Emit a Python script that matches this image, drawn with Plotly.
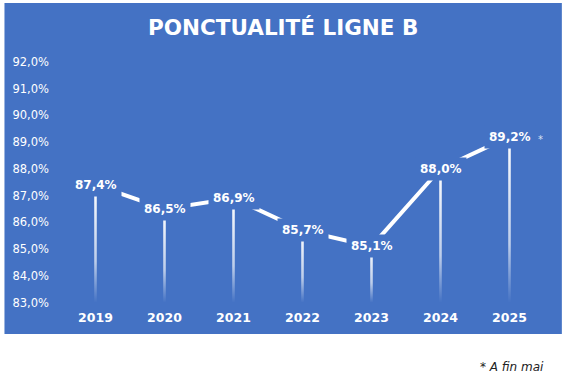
import plotly.graph_objects as go

years = ["2019", "2020", "2021", "2022", "2023", "2024", "2025"]
values = [87.4, 86.5, 86.9, 85.7, 85.1, 88.0, 89.2]
y_ticks = [83, 84, 85, 86, 87, 88, 89, 90, 91, 92]
title_text = "PONCTUALITÉ LIGNE B"
footnote = "* A fin mai"
star_note = "*"

BLUE = "#4472C4"
W, H = 569, 378
ML, MR, MT, MB = 57, 25, 51, 70
PW, PH = W - ML - MR, H - MT - MB
Y_MIN = 82.8
Y_MAX = 92.4


def pxx(px):
    return (px - ML) / PW


def pxy(py):
    return (H - MB - py) / PH


def fmt_pct(v):
    return f"{v:.1f}".replace(".", ",") + "%"


xs = list(range(len(years)))
fig = go.Figure()

# drop lines with vertical gradient
hw = 1.3 / (PW / len(years))
for i, v in zip(xs, values):
    fig.add_trace(go.Scatter(
        x=[i - hw, i + hw, i + hw, i - hw, i - hw],
        y=[y_ticks[0], y_ticks[0], v, v, y_ticks[0]],
        mode="lines", fill="toself", line=dict(width=0),
        fillgradient=dict(type="vertical", colorscale=[
            [0, "rgba(255,255,255,0.0)"],
            [0.35, "rgba(255,255,255,0.65)"],
            [1, "rgba(255,255,255,1)"]]),
        hoverinfo="skip", showlegend=False))

# main line
fig.add_trace(go.Scatter(x=xs, y=values, mode="lines",
                         line=dict(color="white", width=4),
                         hoverinfo="skip", showlegend=False))

annotations = []
for i, v in zip(xs, values):
    annotations.append(dict(
        x=i, y=v, xref="x", yref="y", showarrow=False,
        text=fmt_pct(v),
        font=dict(family="DejaVu Sans", size=12,
                  color="white", weight="bold"),
        bgcolor=BLUE, borderpad=4, xanchor="center", yanchor="middle"))

annotations.append(dict(
    x=xs[-1], y=values[-1], xref="x", yref="y", showarrow=False,
    text=star_note, xshift=31, yshift=-3,
    font=dict(family="DejaVu Sans", size=10, color="rgba(255,255,255,0.8)")))

annotations.append(dict(
    x=pxx(280.5), y=pxy(27.5), xref="paper", yref="paper", showarrow=False,
    text=title_text, xanchor="center", yanchor="middle",
    font=dict(family="DejaVu Sans", size=21.5, color="white", weight="bold")))

annotations.append(dict(
    x=pxx(546), y=pxy(367), xref="paper", yref="paper", showarrow=False,
    text=footnote, xanchor="right", yanchor="middle",
    font=dict(family="DejaVu Sans", size=12, color="#222222", style="italic")))

fig.update_layout(
    width=W, height=H,
    margin=dict(l=ML, r=MR, t=MT, b=MB, pad=0),
    paper_bgcolor="white", plot_bgcolor="rgba(0,0,0,0)",
    annotations=annotations,
    shapes=[dict(type="rect", xref="paper", yref="paper",
                 x0=pxx(0), x1=pxx(562), y0=pxy(334), y1=pxy(3),
                 fillcolor=BLUE, line=dict(width=0), layer="below")],
    xaxis=dict(range=[-0.5, len(years) - 0.5], tickvals=xs, ticktext=years,
               showgrid=False, zeroline=False, showline=False, ticks="",
               fixedrange=True,
               tickfont=dict(family="DejaVu Sans", size=12.5,
                             color="white", weight="bold")),
    yaxis=dict(range=[Y_MIN, Y_MAX], tickvals=y_ticks,
               ticktext=[fmt_pct(t) for t in y_ticks],
               showgrid=False, zeroline=False, showline=False,
               ticks="", ticklabelstandoff=11, fixedrange=True,
               tickfont=dict(family="DejaVu Sans", size=11.5, color="white")),
)

fig.write_html("out.html",
               config={"displayModeBar": False, "staticPlot": True},
               post_script="document.body.style.margin='0';document.body.style.overflow='hidden';")
